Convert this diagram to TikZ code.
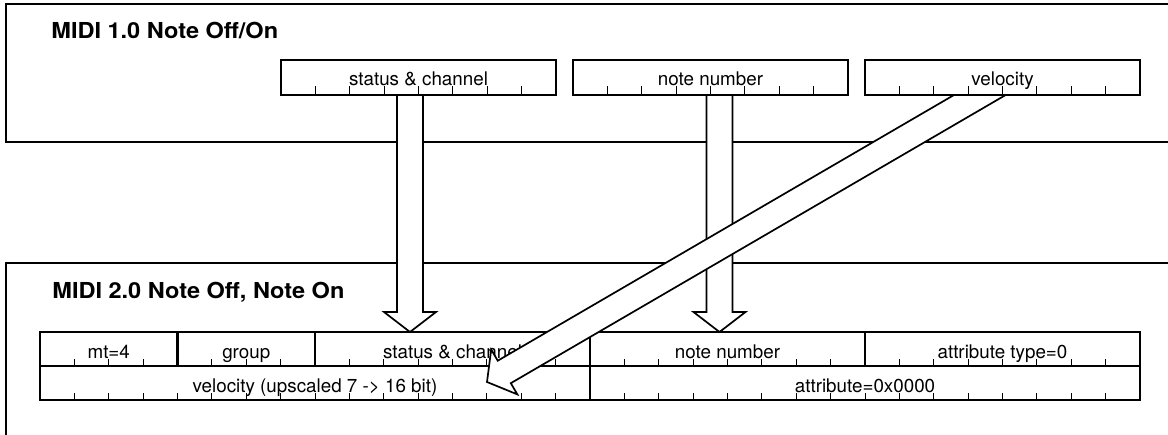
\documentclass[tikz,border=0pt]{standalone}
\usepackage{fontspec}
\setmainfont{TeX Gyre Heros}
\newfontfamily\titlefont[FakeStretch=1.07]{TeX Gyre Heros}
\usetikzlibrary{positioning, calc}

\begin{document}
\begin{tikzpicture}[x=0.5pt, y=-0.5pt,
  frame/.style={line width=0.9pt},
  field/.style={draw, fill=white, line width=1.1pt, outer sep=0pt, inner sep=0pt,
    minimum width=137.5pt, minimum height=17.5pt, text height=7.5pt, text depth=0pt,
    font=\fontsize{9.4}{11}\selectfont},
  cell/.style={field, minimum height=17pt, text height=9pt},
  heading/.style={anchor=base west, inner sep=0pt, font=\titlefont\bfseries\fontsize{11}{13}\selectfont},
  tick/.style={line width=0.5pt},
  blockarrow/.style={draw, fill=white, line width=0.85pt, line join=miter}]
\useasboundingbox (0,0) rectangle (1168,434);
% outer frames, open to the right
\draw[frame] (1172,4) -- (6,4) -- (6,142) -- (1172,142);
\draw[frame] (1172,263) -- (6,263) -- (6,438);
\node[heading] (head1) at (51,38) {MIDI 1.0 Note Off/On};
\node[heading] (head2) at (52,298) {MIDI 2.0 Note Off, Note On};
% MIDI 2.0 packet
\node[cell, minimum width=68.75pt, anchor=north west] (mt) at (40,332) {mt=4};
\node[cell, minimum width=68.75pt, right=0pt of mt] (grp) {group};
\node[cell, right=0pt of grp] (sc2) {status \& channel};
\node[cell, right=0pt of sc2] (nn2) {note number};
\node[cell, right=0pt of nn2] (atype) {attribute type=0};
\node[cell, minimum width=275pt, anchor=north west] (vel2) at (mt.south west) {velocity (upscaled 7 -> 16 bit)};
\node[cell, minimum width=275pt, right=0pt of vel2] (attr) {attribute=0x0000};
\foreach \f/\n in {mt/4, grp/4, sc2/8, nn2/8, atype/8, vel2/16, attr/16}{
  \pgfmathtruncatemacro\last{\n-1}
  \foreach \i in {1,...,\last}
    \draw[tick] ($(\f.south west)!\i/\n!(\f.south east)$) -- ++(0,-7);
}
% arrows
\coordinate (sc-from) at (410,78);
\coordinate (sc-to) at (sc-from |- sc2.north);
\coordinate (nn-from) at (719.5,78);
\coordinate (nn-to) at (nn-from |- nn2.north);
\coordinate (vel-from) at (1009,78);
\coordinate (vel-to) at (487,382);
\foreach \a in {sc, nn, vel}{
  \coordinate (hb) at ($(\a-to)!10pt!(\a-from)$);
  \draw[blockarrow] ($(\a-from)!6.5pt!90:(\a-to)$) -- ($(hb)!6.5pt!90:(\a-to)$)
    -- ($(hb)!13pt!90:(\a-to)$) -- (\a-to) -- ($(hb)!13pt!-90:(\a-to)$)
    -- ($(hb)!6.5pt!-90:(\a-to)$) -- ($(\a-from)!6.5pt!-90:(\a-to)$) -- cycle;
}
% MIDI 1.0 message
\node[field, anchor=north west] (sc1) at (281,60) {status \& channel};
\node[field, right=8.5pt of sc1] (nn1) {note number};
\node[field, right=8.5pt of nn1] (vel1) {velocity};
\foreach \f in {sc1, nn1, vel1}
  \foreach \i in {1,...,7}
    \draw[tick] ($(\f.south west)!\i/8!(\f.south east)$) -- ++(0,-9);
\end{tikzpicture}
\end{document}
